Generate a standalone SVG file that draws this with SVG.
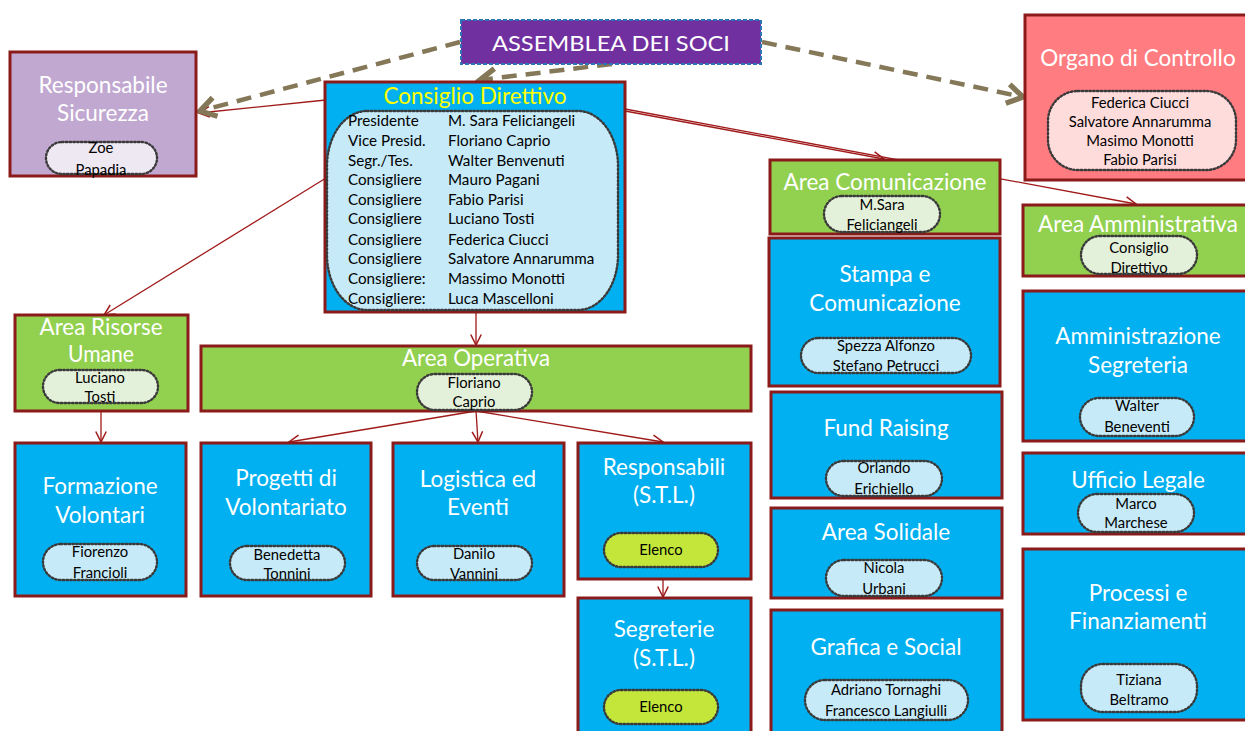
<svg xmlns="http://www.w3.org/2000/svg" width="1245" height="731" viewBox="0 0 1245 731">
<style>
.box{stroke:#8B1A1A;stroke-width:3}
.blue{fill:#00B0F0}
.green{fill:#92D050}
.pill{stroke:#3A3A3A;stroke-width:2.4;stroke-dasharray:1.5 2.3;stroke-linecap:round}
.pb{fill:#C6EAF8}
.pg{fill:#E4F1DA}
.pl{fill:#C4E63B}
.t{font-family:Lato,"Liberation Sans",sans-serif;font-size:22.5px;fill:#FFFFFF;text-anchor:middle}
.s{font-family:Lato,"Liberation Sans",sans-serif;font-size:14.8px;fill:#000000;text-anchor:middle}
.c{font-family:Lato,"Liberation Sans",sans-serif;font-size:15.2px;fill:#000000}
.red{stroke:#A01A1A;stroke-width:1.3;fill:none}
.dash{stroke:#847858;stroke-width:4.5;stroke-dasharray:15 9;fill:none}
</style>
<defs>
<marker id="ar" markerUnits="userSpaceOnUse" markerWidth="14" markerHeight="14" refX="10" refY="5" orient="auto" viewBox="0 0 12 10">
<path d="M1,0.5 L10,5 L1,9.5" fill="none" stroke="#A01A1A" stroke-width="1.3"/>
</marker>
<marker id="ad" markerUnits="userSpaceOnUse" markerWidth="24" markerHeight="24" refX="16" refY="10" orient="auto" viewBox="0 0 20 20">
<path d="M3,2 L16,10 L3,18" fill="none" stroke="#847858" stroke-width="4.5" stroke-linejoin="miter"/>
</marker>
</defs>

<g id="connectors">
<line class="red" x1="326" y1="100" x2="199" y2="113" marker-end="url(#ar)"/>
<line class="red" x1="326" y1="178" x2="104" y2="315" marker-end="url(#ar)"/>
<line class="red" x1="476" y1="312" x2="476" y2="345" marker-end="url(#ar)"/>
<line class="red" x1="625" y1="111" x2="884" y2="159" marker-end="url(#ar)"/>
<line class="red" x1="625" y1="109" x2="1136" y2="204" marker-end="url(#ar)"/>
<line class="red" x1="101" y1="411" x2="101" y2="442" marker-end="url(#ar)"/>
<line class="red" x1="476" y1="411" x2="289" y2="442" marker-end="url(#ar)"/>
<line class="red" x1="476" y1="411" x2="478" y2="442" marker-end="url(#ar)"/>
<line class="red" x1="476" y1="411" x2="663" y2="442" marker-end="url(#ar)"/>
<line class="red" x1="663" y1="579" x2="663" y2="597" marker-end="url(#ar)"/>
<line class="dash" x1="460" y1="42" x2="200" y2="111" marker-end="url(#ad)"/>
<line class="dash" x1="612" y1="64" x2="480" y2="80" marker-end="url(#ad)"/>
<line class="dash" x1="762" y1="42" x2="1023" y2="97" marker-end="url(#ad)"/>
</g>

<g id="assemblea">
<rect x="461" y="20" width="300" height="44" fill="#7030A0" stroke="#2E75B6" stroke-width="2" stroke-dasharray="4 2"/>
<text class="t" x="611" y="51" style="font-size:21px" textLength="238" lengthAdjust="spacingAndGlyphs">ASSEMBLEA DEI SOCI</text>
</g>

<g id="responsabile-sicurezza">
<rect class="box" x="10" y="52" width="186" height="124" fill="#C1A8D1"/>
<text class="t" x="103" y="93">Responsabile</text>
<text class="t" x="103" y="121">Sicurezza</text>
<rect class="pill" x="46" y="142" width="111" height="32" rx="16" fill="#EEE8F3"/>
<text class="s" x="101" y="153">Zoe</text>
<text class="s" x="101" y="175">Papadia</text>
</g>

<g id="consiglio-direttivo">
<rect class="box blue" x="325" y="82" width="300" height="230"/>
<text class="t" x="475" y="104" style="fill:#FFFF00">Consiglio Direttivo</text>
<rect class="pill" x="327" y="111" width="291" height="199" rx="40" ry="55" fill="#C6EAF8"/>
<text class="c" x="348" y="126">Presidente</text><text class="c" x="448" y="126">M. Sara Feliciangeli</text>
<text class="c" x="348" y="146">Vice Presid.</text><text class="c" x="448" y="146">Floriano Caprio</text>
<text class="c" x="348" y="166">Segr./Tes.</text><text class="c" x="448" y="166">Walter Benvenuti</text>
<text class="c" x="348" y="185">Consigliere</text><text class="c" x="448" y="185">Mauro Pagani</text>
<text class="c" x="348" y="205">Consigliere</text><text class="c" x="448" y="205">Fabio Parisi</text>
<text class="c" x="348" y="224">Consigliere</text><text class="c" x="448" y="224">Luciano Tosti</text>
<text class="c" x="348" y="245">Consigliere</text><text class="c" x="448" y="245">Federica Ciucci</text>
<text class="c" x="348" y="264">Consigliere</text><text class="c" x="448" y="264">Salvatore Annarumma</text>
<text class="c" x="348" y="284">Consigliere:</text><text class="c" x="448" y="284">Massimo Monotti</text>
<text class="c" x="348" y="304">Consigliere:</text><text class="c" x="448" y="304">Luca Mascelloni</text>
</g>

<g id="organo-controllo">
<rect class="box" x="1025" y="15" width="225" height="165" fill="#FF7C80"/>
<text class="t" x="1138" y="66">Organo di Controllo</text>
<rect class="pill" x="1048" y="91" width="188" height="79" rx="30" fill="#FFDCDC"/>
<text class="s" x="1140" y="108">Federica Ciucci</text>
<text class="s" x="1140" y="127">Salvatore Annarumma</text>
<text class="s" x="1140" y="146">Masimo Monotti</text>
<text class="s" x="1140" y="165">Fabio Parisi</text>
</g>

<g id="area-comunicazione">
<rect class="box green" x="770" y="160" width="230" height="74"/>
<text class="t" x="885" y="190">Area Comunicazione</text>
<rect class="pill pg" x="824" y="196" width="116" height="36" rx="18"/>
<text class="s" x="882" y="210">M.Sara</text>
<text class="s" x="882" y="230">Feliciangeli</text>
</g>

<g id="area-amministrativa">
<rect class="box green" x="1023" y="205" width="227" height="71"/>
<text class="t" x="1138" y="232">Area Amministrativa</text>
<rect class="pill pg" x="1081" y="236" width="116" height="38" rx="19"/>
<text class="s" x="1139" y="253">Consiglio</text>
<text class="s" x="1139" y="273">Direttivo</text>
</g>

<g id="stampa-comunicazione">
<rect class="box blue" x="769" y="238" width="231" height="148"/>
<text class="t" x="885" y="282">Stampa e</text>
<text class="t" x="885" y="311">Comunicazione</text>
<rect class="pill pb" x="801" y="338" width="170" height="35" rx="17.5"/>
<text class="s" x="886" y="351">Spezza Alfonzo</text>
<text class="s" x="886" y="371">Stefano Petrucci</text>
</g>

<g id="fund-raising">
<rect class="box blue" x="771" y="392" width="231" height="106"/>
<text class="t" x="886" y="436">Fund Raising</text>
<rect class="pill pb" x="826" y="461" width="116" height="35" rx="17.5"/>
<text class="s" x="884" y="473">Orlando</text>
<text class="s" x="884" y="494">Erichiello</text>
</g>

<g id="area-solidale">
<rect class="box blue" x="771" y="508" width="231" height="90"/>
<text class="t" x="886" y="540">Area Solidale</text>
<rect class="pill pb" x="826" y="560" width="116" height="36" rx="18"/>
<text class="s" x="884" y="573">Nicola</text>
<text class="s" x="884" y="594">Urbani</text>
</g>

<g id="grafica-social">
<rect class="box blue" x="771" y="610" width="231" height="130"/>
<text class="t" x="886" y="655">Grafica e Social</text>
<rect class="pill pb" x="805" y="680" width="163" height="40" rx="20"/>
<text class="s" x="886" y="695">Adriano Tornaghi</text>
<text class="s" x="886" y="716">Francesco Langiulli</text>
</g>

<g id="amministrazione-segreteria">
<rect class="box blue" x="1023" y="291" width="227" height="150"/>
<text class="t" x="1138" y="344">Amministrazione</text>
<text class="t" x="1138" y="373">Segreteria</text>
<rect class="pill pb" x="1080" y="398" width="114" height="38" rx="19"/>
<text class="s" x="1137" y="411">Walter</text>
<text class="s" x="1137" y="432">Beneventi</text>
</g>

<g id="ufficio-legale">
<rect class="box blue" x="1023" y="453" width="227" height="81"/>
<text class="t" x="1138" y="488">Ufficio Legale</text>
<rect class="pill pb" x="1078" y="494" width="116" height="38" rx="19"/>
<text class="s" x="1136" y="509">Marco</text>
<text class="s" x="1136" y="528">Marchese</text>
</g>

<g id="processi-finanziamenti">
<rect class="box blue" x="1023" y="549" width="227" height="171"/>
<text class="t" x="1138" y="601">Processi e</text>
<text class="t" x="1138" y="629">Finanziamenti</text>
<rect class="pill pb" x="1081" y="664" width="116" height="48" rx="22"/>
<text class="s" x="1139" y="685">Tiziana</text>
<text class="s" x="1139" y="705">Beltramo</text>
</g>

<g id="area-risorse-umane">
<rect class="box green" x="15" y="315" width="173" height="96"/>
<text class="t" x="101" y="335" textLength="123" lengthAdjust="spacingAndGlyphs">Area Risorse</text>
<text class="t" x="101" y="362" textLength="66" lengthAdjust="spacingAndGlyphs">Umane</text>
<rect class="pill pg" x="43" y="370" width="115" height="33" rx="16.5"/>
<text class="s" x="100" y="383">Luciano</text>
<text class="s" x="100" y="402">Tosti</text>
</g>

<g id="area-operativa">
<rect class="box green" x="201" y="346" width="550" height="65"/>
<text class="t" x="476" y="366" textLength="148" lengthAdjust="spacingAndGlyphs">Area Operativa</text>
<rect class="pill pg" x="417" y="374" width="115" height="36" rx="18"/>
<text class="s" x="474" y="388">Floriano</text>
<text class="s" x="474" y="407">Caprio</text>
</g>

<g id="formazione-volontari">
<rect class="box blue" x="15" y="443" width="171" height="153"/>
<text class="t" x="100" y="494">Formazione</text>
<text class="t" x="100" y="523">Volontari</text>
<rect class="pill pb" x="43" y="544" width="114" height="36" rx="18"/>
<text class="s" x="100" y="557">Fiorenzo</text>
<text class="s" x="100" y="578">Francioli</text>
</g>

<g id="progetti-volontariato">
<rect class="box blue" x="201" y="443" width="170" height="153"/>
<text class="t" x="286" y="486">Progetti di</text>
<text class="t" x="286" y="515">Volontariato</text>
<rect class="pill pb" x="230" y="546" width="115" height="34" rx="17"/>
<text class="s" x="287" y="560">Benedetta</text>
<text class="s" x="287" y="579">Tonnini</text>
</g>

<g id="logistica-eventi">
<rect class="box blue" x="393" y="443" width="171" height="153"/>
<text class="t" x="478" y="487">Logistica ed</text>
<text class="t" x="478" y="515">Eventi</text>
<rect class="pill pb" x="417" y="546" width="115" height="34" rx="17"/>
<text class="s" x="474" y="559">Danilo</text>
<text class="s" x="474" y="579">Vannini</text>
</g>

<g id="responsabili-stl">
<rect class="box blue" x="578" y="443" width="173" height="136"/>
<text class="t" x="664" y="475">Responsabili</text>
<text class="t" x="664" y="503">(S.T.L.)</text>
<rect class="pill pl" x="604" y="533" width="114" height="34" rx="17"/>
<text class="s" x="661" y="555">Elenco</text>
</g>

<g id="segreterie-stl">
<rect class="box blue" x="578" y="598" width="173" height="140"/>
<text class="t" x="664" y="637">Segreterie</text>
<text class="t" x="664" y="666">(S.T.L.)</text>
<rect class="pill pl" x="604" y="690" width="114" height="34" rx="17"/>
<text class="s" x="661" y="712">Elenco</text>
</g>
</svg>
